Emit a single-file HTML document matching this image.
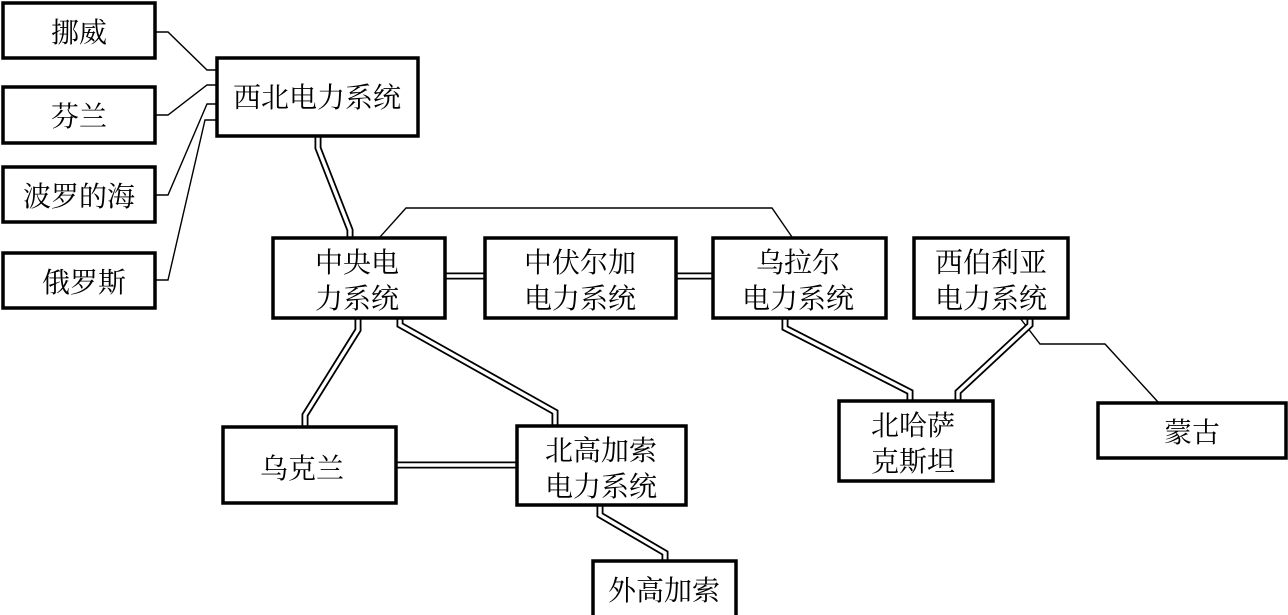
<!DOCTYPE html>
<html><head><meta charset="utf-8"><style>
body{margin:0;background:#fff;width:1288px;height:615px;overflow:hidden}
svg{display:block}
text{font-family:"Liberation Serif","Noto Serif CJK SC",serif;font-size:28px;fill:#000;text-anchor:middle}
.b{fill:#fff;stroke:#000;stroke-width:3.5}
.t{fill:none;stroke:#000;stroke-width:1.4}
.d1{fill:none;stroke:#000;stroke-width:7}
.d2{fill:none;stroke:#fff;stroke-width:3.4}
</style></head><body>
<svg width="1288" height="615" viewBox="0 0 1288 615">
<!-- thin connectors -->
<polyline class="t" points="155,32 168,32 207,70 216,70"/>
<polyline class="t" points="155,115 168,115 207,85 216,85"/>
<polyline class="t" points="155,195 168,195 207,104 216,104"/>
<polyline class="t" points="155,280 168,280 205,120 216,120"/>
<polyline class="t" points="380,237 406,208 772,208 792,237"/>
<polyline class="t" points="1020,318 1040,344 1105,344 1158,402"/>
<!-- double connectors -->
<g id="dbl">
<polyline class="d1" points="318,137 318,148 350,230 350,237"/>
<polyline class="d1" points="445,276 484,276"/>
<polyline class="d1" points="676,276 712,276"/>
<polyline class="d1" points="358,318 358,330 305,415 305,426"/>
<polyline class="d1" points="400,318 400,325 555,412 555,425"/>
<polyline class="d1" points="396,465 516,465"/>
<polyline class="d1" points="600,505 600,515 665,553 665,560"/>
<polyline class="d1" points="785,318 785,328 910,392 910,400"/>
<polyline class="d1" points="1030,318 1030,325 958,392 958,400"/>
<polyline class="d2" points="318,137 318,148 350,230 350,237"/>
<polyline class="d2" points="445,276 484,276"/>
<polyline class="d2" points="676,276 712,276"/>
<polyline class="d2" points="358,318 358,330 305,415 305,426"/>
<polyline class="d2" points="400,318 400,325 555,412 555,425"/>
<polyline class="d2" points="396,465 516,465"/>
<polyline class="d2" points="600,505 600,515 665,553 665,560"/>
<polyline class="d2" points="785,318 785,328 910,392 910,400"/>
<polyline class="d2" points="1030,318 1030,325 958,392 958,400"/>
</g>
<!-- boxes -->
<rect class="b" x="3" y="3" width="152" height="55"/><text x="79" y="42">挪威</text>
<rect class="b" x="3" y="87" width="152" height="56"/><text x="79" y="126">芬兰</text>
<rect class="b" x="3" y="167" width="152" height="55"/><text x="79" y="206">波罗的海</text>
<rect class="b" x="3" y="253" width="152" height="55"/><text x="84" y="292">俄罗斯</text>
<rect class="b" x="217" y="58" width="201" height="78"/><text x="317" y="107">西北电力系统</text>
<rect class="b" x="273" y="238" width="172" height="80"/><text x="357" y="272">中央电</text><text x="357" y="308">力系统</text>
<rect class="b" x="485" y="238" width="191" height="80"/><text x="580" y="272">中伏尔加</text><text x="580" y="308">电力系统</text>
<rect class="b" x="713" y="238" width="173" height="80"/><text x="798" y="272">乌拉尔</text><text x="798" y="308">电力系统</text>
<rect class="b" x="914" y="238" width="154" height="80"/><text x="991" y="272">西伯利亚</text><text x="991" y="308">电力系统</text>
<rect class="b" x="839" y="401" width="154" height="80"/><text x="913" y="435">北哈萨</text><text x="913" y="471">克斯坦</text>
<rect class="b" x="1098" y="403" width="188" height="55"/><text x="1192" y="442">蒙古</text>
<rect class="b" x="223" y="427" width="173" height="76"/><text x="302" y="478">乌克兰</text>
<rect class="b" x="517" y="426" width="169" height="79"/><text x="601" y="460">北高加索</text><text x="601" y="496">电力系统</text>
<rect class="b" x="593" y="561" width="143" height="56"/><text x="664" y="600">外高加索</text>
</svg>
</body></html>
